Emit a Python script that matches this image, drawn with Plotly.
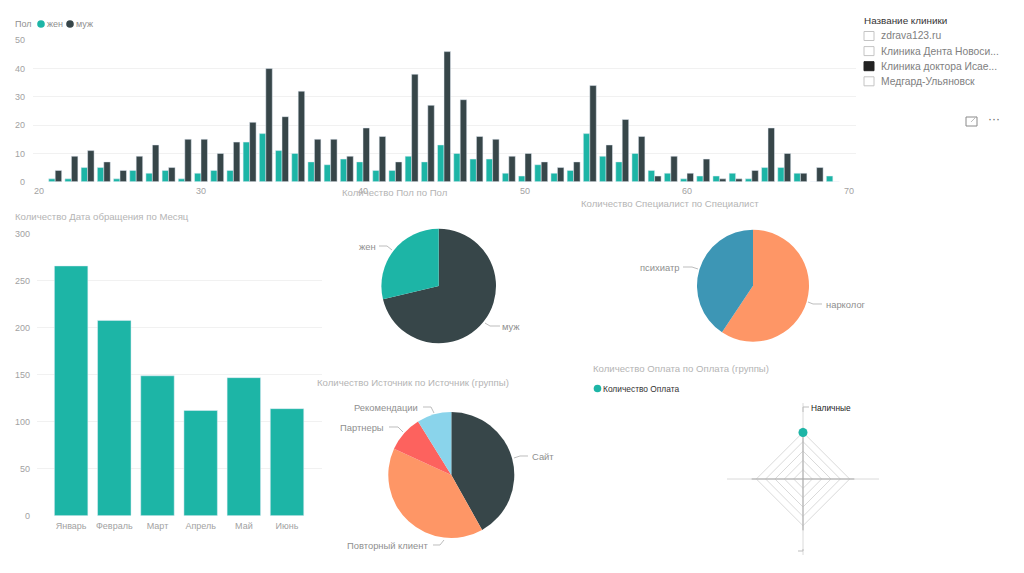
import plotly.graph_objects as go

W = 1024
H = 573

# data
ages = list(range(21, 70))
age_f = [1, 1, 5, 5, 1, 4, 3, 4, 1, 3, 4, 4, 14, 17, 11, 10, 7, 6, 8, 7, 4, 4, 9, 7, 13,
         10, 8, 8, 3, 2, 6, 3, 4, 17, 9, 7, 10, 4, 3, 1, 2, 2, 3, 1, 5, 5, 3, 0, 2]
age_m = [4, 9, 11, 7, 4, 9, 13, 5, 15, 15, 10, 14, 21, 40, 23, 32, 15, 15, 9, 19, 16, 7, 38, 27, 46,
         29, 16, 15, 9, 10, 7, 5, 7, 34, 13, 22, 16, 2, 9, 3, 8, 1, 1, 4, 19, 10, 3, 5, 0]

months = ['Январь', 'Февраль', 'Март', 'Апрель', 'Май', 'Июнь']
month_counts = [266, 208, 149, 112, 147, 114]

sex_labels = ['муж', 'жен']
sex_counts = [672, 271]

spec_labels = ['нарколог', 'психиатр']
spec_counts = [591, 405]

source_labels = ['Сайт', 'Повторный клиент', 'Партнеры', 'Рекомендации']
source_counts = [417, 398, 93, 88]

pay_labels = ['Наличные']
pay_counts = [996]
pay_categories = ['Наличные', ' ', '  ', '   ']

clinics = ['zdrava123.ru', 'Клиника Дента Новоси...', 'Клиника доктора Исае...', 'Медгард-Ульяновск']
clinic_selected = [False, False, True, False]

TEAL = '#1DB5A6'
DARK = '#374649'
ORANGE = '#FE9666'
RED = '#FD625E'
SKY = '#8AD4EB'
BLUE = '#3D96B5'
GRID = '#F1F1F1'
GREY = '#8F8F8F'
TICK = '#A2A2A2'
TITLE = '#B4B4B4'
FONT = 'Liberation Sans'
TITLE_SIZE = 9.6
LABEL_SIZE = 9.4


def px(x, y):
    return x / W, 1 - y / H


def pie_domain(cx, cy, r):
    return {'x': [(cx - r) / W, (cx + r) / W], 'y': [1 - (cy + r) / H, 1 - (cy - r) / H]}


def label(x, y, text, anchor='left', color=GREY, size=LABEL_SIZE):
    # left anchored text sits 1px right of the given x
    fx, fy = px(x - 1 if anchor == 'left' else x, y)
    annotations.append(dict(x=fx, y=fy, xref='paper', yref='paper', text=text, showarrow=False,
                            xanchor=anchor, yanchor='middle', borderpad=0,
                            font=dict(family=FONT, color=color, size=size)))


def leader(points):
    path = ''
    for i, (x, y) in enumerate(points):
        fx, fy = px(x, y)
        path += ('M' if i == 0 else 'L') + f' {fx:.5f} {fy:.5f} '
    shapes.append(dict(type='path', path=path, xref='paper', yref='paper',
                       line=dict(color='#BDBDBD', width=1)))


def dot(x, y, r, color):
    x0, y0 = px(x - r, y - r)
    x1, y1 = px(x + r, y + r)
    shapes.append(dict(type='circle', x0=x0, y0=y0, x1=x1, y1=y1, xref='paper', yref='paper',
                       fillcolor=color, line=dict(width=0)))


annotations = []
shapes = []

fig = go.Figure()

# age bars
fig.add_trace(go.Bar(x=ages, y=age_f, name='жен', marker_color=TEAL, showlegend=False, xaxis='x', yaxis='y'))
fig.add_trace(go.Bar(x=ages, y=age_m, name='муж', marker_color=DARK, showlegend=False, xaxis='x', yaxis='y'))

# month bars
fig.add_trace(go.Bar(x=months, y=month_counts, marker_color=TEAL, width=0.775, showlegend=False,
                     xaxis='x2', yaxis='y2'))

# pies
fig.add_trace(go.Pie(labels=sex_labels, values=sex_counts, sort=False, direction='clockwise', rotation=0,
                     textinfo='none', marker_colors=[DARK, TEAL], showlegend=False,
                     domain=pie_domain(438.7, 286, 57.3)))
fig.add_trace(go.Pie(labels=spec_labels, values=spec_counts, sort=False, direction='clockwise', rotation=0,
                     textinfo='none', marker_colors=[ORANGE, BLUE], showlegend=False,
                     domain=pie_domain(753, 285.7, 56)))
fig.add_trace(go.Pie(labels=source_labels, values=source_counts, sort=False, direction='clockwise', rotation=0,
                     textinfo='none', marker_colors=[DARK, ORANGE, RED, SKY], showlegend=False,
                     domain=pie_domain(451.3, 475, 63)))

# radar
for cat in pay_categories:
    fig.add_trace(go.Scatterpolar(r=[0, 1100], theta=[cat, cat], mode='lines',
                                  line=dict(color='#A9A9A9', width=1), showlegend=False, subplot='polar'))
fig.add_trace(go.Scatterpolar(r=pay_counts, theta=pay_labels, mode='markers', name='Количество Оплата',
                              marker=dict(color=TEAL, size=9), showlegend=False, subplot='polar'))

# titles
label(342, 192, 'Количество Пол по Пол', color=TITLE, size=TITLE_SIZE)
label(15, 217, 'Количество Дата обращения по Месяц', color=TITLE, size=TITLE_SIZE)
label(581, 204, 'Количество Специалист по Специалист', color=TITLE, size=TITLE_SIZE)
label(317, 382, 'Количество Источник по Источник (группы)', color=TITLE, size=TITLE_SIZE)
label(593, 368, 'Количество Оплата по Оплата (группы)', color=TITLE, size=TITLE_SIZE)

# legend rows
label(15, 24, 'Пол', size=9)
dot(41, 24, 3.8, TEAL)
label(47, 24, 'жен', size=9)
dot(70, 24, 3.8, DARK)
label(76, 24, 'муж', size=9)
dot(597.5, 388.5, 3.8, TEAL)
label(602.5, 388.5, 'Количество Оплата', color='#333333', size=8.4)

# pie labels
label(377, 246, 'жен', anchor='right')
leader([(379, 246), (387, 246), (392, 250)])
label(502, 326, 'муж')
leader([(485, 323), (490, 326), (500, 326)])
label(680, 267, 'психиатр', anchor='right')
leader([(683, 267), (692, 267), (698, 269)])
label(826, 304, 'нарколог')
leader([(808, 302), (813, 304), (822, 304)])
label(532, 456, 'Сайт')
leader([(514, 458), (520, 456), (528, 456)])
label(429, 545, 'Повторный клиент', anchor='right')
leader([(433, 545), (440, 545), (444, 540)])
label(385, 427, 'Партнеры', anchor='right')
leader([(389, 427), (398, 427), (403, 432)])
label(419, 407, 'Рекомендации', anchor='right')
leader([(423, 407), (431, 407), (434, 413)])

# radar label
label(811, 408, 'Наличные', color='#222222', size=8.3)
leader([(803, 412), (803, 407), (809, 407)])
leader([(803, 549), (803, 551), (798, 551)])

# slicer
label(864, 20.5, 'Название клиники', color='#333333', size=9.9)
for i, name in enumerate(clinics):
    y = 36 + i * 15.1
    label(880.5, y, name, color='#808080', size=10.3)
    x0, y0 = px(864, y - 4.5)
    x1, y1 = px(874, y + 4.5)
    shapes.append(dict(type='rect', x0=x0, y0=y0, x1=x1, y1=y1, xref='paper', yref='paper',
                       fillcolor='#222222' if clinic_selected[i] else 'white',
                       line=dict(color='#222222' if clinic_selected[i] else '#C4C4C4', width=1)))

# focus icon and menu dots
x0, y0 = px(966, 117)
x1, y1 = px(977, 126)
shapes.append(dict(type='rect', x0=x0, y0=y0, x1=x1, y1=y1, xref='paper', yref='paper',
                   line=dict(color='#8A8A8A', width=1)))
leader([(971, 122), (977, 116)])
label(994, 119, '···', anchor='center', color='#666666', size=12)

layout = go.Layout(
    width=W,
    height=H,
    margin=dict(l=0, r=0, t=0, b=0, autoexpand=False),
    paper_bgcolor='white',
    plot_bgcolor='white',
    font=dict(family=FONT, color=TICK, size=9),
    barmode='group',
    bargap=0.2,
    bargroupgap=0,
    annotations=annotations,
    shapes=shapes,
    xaxis=dict(domain=[33 / W, 856 / W], range=[19.63, 70.43], tick0=20, dtick=10, showgrid=False,
               zeroline=False, showline=False, anchor='y', ticklabelstandoff=2),
    yaxis=dict(domain=[1 - 181.7 / H, 1 - 40.3 / H], range=[0, 50], dtick=10, gridcolor=GRID,
               zeroline=False, anchor='x', ticklabelstandoff=7),
    xaxis2=dict(domain=[37 / W, 322 / W], range=[-0.79, 5.81], showgrid=False, zeroline=False,
                showline=False, anchor='y2', ticklabelstandoff=3),
    yaxis2=dict(domain=[1 - 515.7 / H, 1 - 234 / H], range=[0, 300], dtick=50, gridcolor=GRID,
                zeroline=False, anchor='x2', ticklabelstandoff=6),
    polar=dict(
        domain=dict(x=[(803 - 76) / W, (803 + 76) / W], y=[1 - (479 + 76) / H, 1 - (479 - 76) / H]),
        gridshape='linear',
        bgcolor='rgba(0,0,0,0)',
        radialaxis=dict(range=[0, 1628], tickvals=[200, 400, 600, 800, 1000], showticklabels=False,
                        ticks='', showline=False, gridcolor='#DADADA', angle=90),
        angularaxis=dict(type='category', categoryarray=pay_categories, categoryorder='array',
                         rotation=90, direction='clockwise', showticklabels=False, ticks='',
                         showline=False, gridcolor='#DADADA'),
    ),
)
fig.update_layout(layout)

fig.write_html('out.html', config={'displayModeBar': False}, post_script='document.body.style.margin="0";')
